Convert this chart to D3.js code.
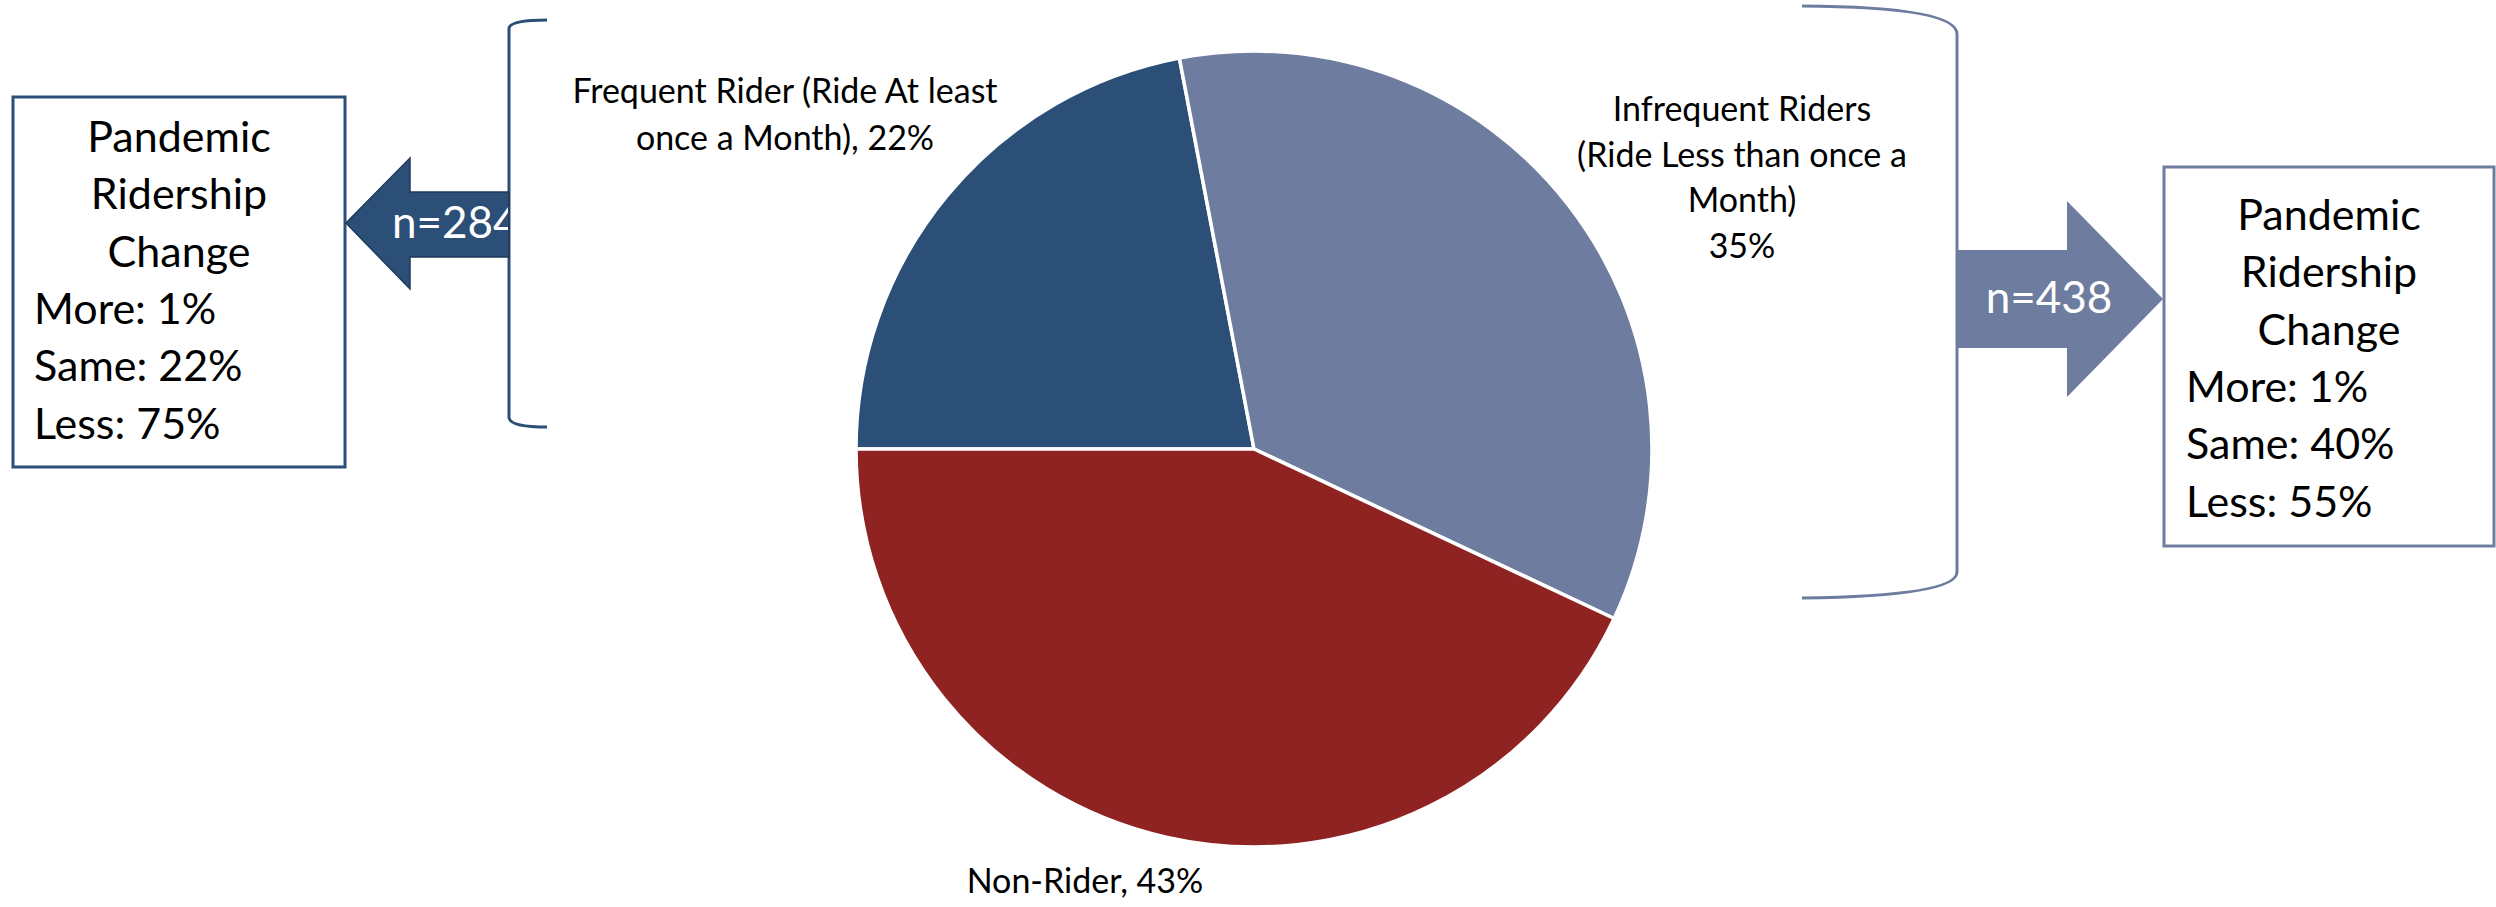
<!DOCTYPE html>
<html>
<head>
<meta charset="utf-8">
<script src="https://cdn.jsdelivr.net/npm/d3@7"></script>
<style>
  html, body { margin: 0; padding: 0; background: #fff; }
  svg text { font-family: Lato, "Open Sans", sans-serif; fill: #000; }
</style>
</head>
<body>
<div id="chart"></div>
<script>
// rider groups and their share of respondents
var categories = ["Frequent Rider", "Infrequent Riders", "Non-Rider"];
var shares = [22, 35, 43];
var labelLines = [
  ["Frequent Rider (Ride At least", "once a Month), "],
  ["Infrequent Riders", "(Ride Less than once a", "Month)", ""],
  ["Non-Rider, "]
];

// pandemic ridership change for the two rider groups
var changeTitle = ["Pandemic", "Ridership", "Change"];
var changeCats = ["More", "Same", "Less"];
var frequentChange = [1, 22, 75];
var infrequentChange = [1, 40, 55];
var sampleSizes = [284, 438];

var colors = ["#2b4f76", "#6e7c9f", "#8e2322"];

var width = 2496, height = 907;

var svg = d3.select("#chart").append("svg")
    .attr("width", width)
    .attr("height", height);

// pie
var pie = d3.pie()
    .sort(null)
    .value(function(d) { return d; })
    .startAngle(-Math.PI / 2)
    .endAngle(Math.PI * 1.5);

var arc = d3.arc().innerRadius(0).outerRadius(398);

var pieG = svg.append("g").attr("transform", "translate(1254,449)");

pieG.selectAll("path.slice")
    .data(pie(shares))
    .enter().append("path")
    .attr("class", "slice")
    .attr("d", arc)
    .attr("fill", function(d, i) { return colors[i]; })
    .attr("stroke", "#fff")
    .attr("stroke-width", 3.5)
    .attr("stroke-linejoin", "round");

// slice labels (anchor centre x, first baseline, line step)
var labelPos = [[785, 103, 47], [1742, 121, 45.5], [1085, 893, 46]];

labelLines.forEach(function(lines, i) {
  var t = svg.append("text")
      .attr("text-anchor", "middle")
      .style("font-size", "34px");
  lines.forEach(function(line, j) {
    var txt = line;
    if (j == lines.length - 1) txt = line + shares[i] + "%";
    t.append("tspan")
        .attr("x", labelPos[i][0])
        .attr("y", labelPos[i][1] + j * labelPos[i][2])
        .text(txt);
  });
});

// brackets
var lb = d3.path();
lb.moveTo(547, 20);
lb.quadraticCurveTo(511, 20, 509, 28);
lb.lineTo(509, 418);
lb.quadraticCurveTo(511, 427, 547, 427);

svg.append("path")
    .attr("d", lb.toString())
    .attr("fill", "none")
    .attr("stroke", colors[0])
    .attr("stroke-width", 3);

var rb = d3.path();
rb.moveTo(1802, 6);
rb.quadraticCurveTo(1957, 7, 1957, 34);
rb.lineTo(1957, 572);
rb.quadraticCurveTo(1957, 596, 1802, 598);

svg.append("path")
    .attr("d", rb.toString())
    .attr("fill", "none")
    .attr("stroke", colors[1])
    .attr("stroke-width", 3);

// boxes with the change figures
function changeBox(x, y, w, h, color, values, firstBase, indent) {
  svg.append("rect")
      .attr("x", x).attr("y", y)
      .attr("width", w).attr("height", h)
      .attr("fill", "#fff")
      .attr("stroke", color)
      .attr("stroke-width", 3);

  var step = 57.3;
  changeTitle.forEach(function(s, j) {
    svg.append("text")
        .attr("x", x + w / 2)
        .attr("y", firstBase + j * step)
        .attr("text-anchor", "middle")
        .style("font-size", "43px")
        .text(s);
  });
  changeCats.forEach(function(c, j) {
    svg.append("text")
        .attr("x", x + indent)
        .attr("y", firstBase + (j + 3) * step)
        .style("font-size", "43px")
        .text(c + ": " + values[j] + "%");
  });
}

changeBox(13, 97, 332, 370, colors[0], frequentChange, 152, 21);
changeBox(2164, 167, 330, 379, colors[1], infrequentChange, 230, 22);

// arrows
var line = d3.line();

svg.append("path")
    .attr("d", line([[509, 192], [410, 192], [410, 158], [346, 223], [410, 289], [410, 257], [509, 257]]) + "Z")
    .attr("fill", colors[0])
    .attr("stroke", "#1f3a5c")
    .attr("stroke-width", 1.5);

svg.append("path")
    .attr("d", line([[1957, 250], [2067, 250], [2067, 201], [2163, 299], [2067, 397], [2067, 348], [1957, 348]]) + "Z")
    .attr("fill", colors[1]);

svg.append("clipPath").attr("id", "lclip")
  .append("rect").attr("x", 340).attr("y", 150).attr("width", 168).attr("height", 150);

svg.append("text")
    .attr("x", 392)
    .attr("y", 238)
    .attr("clip-path", "url(#lclip)")
    .style("font-size", "44px")
    .style("fill", "#fff")
    .text("n=" + sampleSizes[0]);

svg.append("text")
    .attr("x", 2049)
    .attr("y", 313)
    .attr("text-anchor", "middle")
    .style("font-size", "44px")
    .style("fill", "#fff")
    .text("n=" + sampleSizes[1]);
</script>
</body>
</html>
